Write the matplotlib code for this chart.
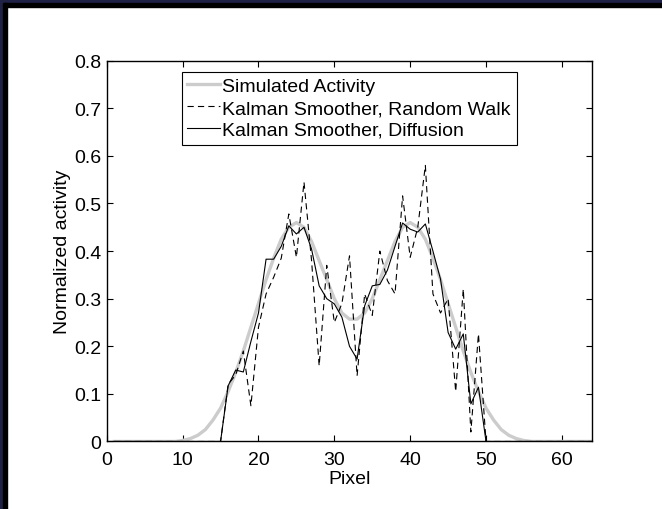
import numpy as np
import matplotlib
matplotlib.use("Agg")
import matplotlib.pyplot as plt
from matplotlib.patches import Rectangle

plt.rcParams['font.family'] = ['Liberation Sans', 'DejaVu Sans']
plt.rcParams['font.size'] = 14
plt.rcParams['lines.scale_dashes'] = False

# pixel index 1..64
pixels = np.arange(1, 65)

simulated = [0]*9 + [
    0.002, 0.006, 0.013, 0.025, 0.045, 0.07, 0.105, 0.145, 0.19, 0.24,
    0.29, 0.34, 0.385, 0.425, 0.45, 0.46, 0.45, 0.42, 0.38, 0.34,
    0.30, 0.27, 0.257, 0.257, 0.27, 0.30, 0.34, 0.38, 0.42, 0.45,
    0.46, 0.45, 0.425, 0.385, 0.34, 0.29, 0.24, 0.19, 0.145, 0.105,
    0.07, 0.045, 0.025, 0.013, 0.006, 0.002] + [0]*9

random_walk = [0]*15 + [
    0.12, 0.14, 0.19, 0.075, 0.24, 0.31, 0.345, 0.385, 0.478, 0.387,
    0.545, 0.38, 0.159, 0.37, 0.25, 0.29, 0.39, 0.138, 0.31, 0.265,
    0.40, 0.338, 0.31, 0.516, 0.387, 0.45, 0.58, 0.31, 0.27, 0.30,
    0.105, 0.32, 0.02, 0.226, 0.0] + [0]*14

diffusion = [0]*15 + [
    0.117, 0.15, 0.146, 0.21, 0.27, 0.383, 0.383, 0.41, 0.453, 0.436,
    0.45, 0.404, 0.327, 0.30, 0.289, 0.261, 0.20, 0.173, 0.285, 0.327,
    0.33, 0.36, 0.41, 0.459, 0.446, 0.44, 0.457, 0.40, 0.341, 0.229,
    0.194, 0.226, 0.079, 0.114, 0.0] + [0]*14

x_ticks = [0, 10, 20, 30, 40, 50, 60]
y_ticks = [0, 0.1, 0.2, 0.3, 0.4, 0.5, 0.6, 0.7, 0.8]
y_tick_labels = ['0', '0.1', '0.2', '0.3', '0.4', '0.5', '0.6', '0.7', '0.8']

fig = plt.figure(figsize=(6.62, 5.10), dpi=100)
ax = fig.add_axes([0.1613, 0.1324, 0.7333, 0.7466])

ax.plot(pixels, simulated, color='#cccccc', lw=2.4, label='Simulated Activity')
ax.plot(pixels, random_walk, color='black', lw=0.8, dashes=(4.5, 3),
        label='Kalman Smoother, Random Walk')
ax.plot(pixels, diffusion, color='black', lw=0.8, label='Kalman Smoother, Diffusion')

ax.set_xlim(0, 64)
ax.set_ylim(0, 0.8)
ax.set_xticks(x_ticks)
ax.set_yticks(y_ticks)
ax.set_yticklabels(y_tick_labels)
ax.tick_params(direction='in', length=4, width=0.8, top=True, right=True)
ax.tick_params(axis='x', pad=7)
ax.tick_params(axis='y', pad=4)
for s in ax.spines.values():
    s.set_linewidth(1.0)

ax.set_xlabel('Pixel', labelpad=1)
ax.set_ylabel('Normalized activity', labelpad=2)

leg = ax.legend(loc='upper left', bbox_to_anchor=(0.154, 0.971), borderaxespad=0,
                fancybox=False, framealpha=1, edgecolor='black',
                handlelength=1.7, handletextpad=0.1, labelspacing=0.22,
                borderpad=0.3)
leg.get_frame().set_linewidth(0.8)

# window frame strips (top and left)
W, H = 662, 510
fig.patches.append(Rectangle((0, 1 - 4 / H), 1, 4 / H, transform=fig.transFigure,
                             color='#1f2145', zorder=10))
fig.patches.append(Rectangle((0, 1 - 8 / H), 1, 4 / H, transform=fig.transFigure,
                             color='black', zorder=10))
fig.patches.append(Rectangle((0, 0), 3 / W, 1, transform=fig.transFigure,
                             color='#1f2145', zorder=10))
fig.patches.append(Rectangle((3 / W, 0), 4 / W, 1 - 4 / H, transform=fig.transFigure,
                             color='black', zorder=10))

fig.savefig('out.png', dpi=100)
